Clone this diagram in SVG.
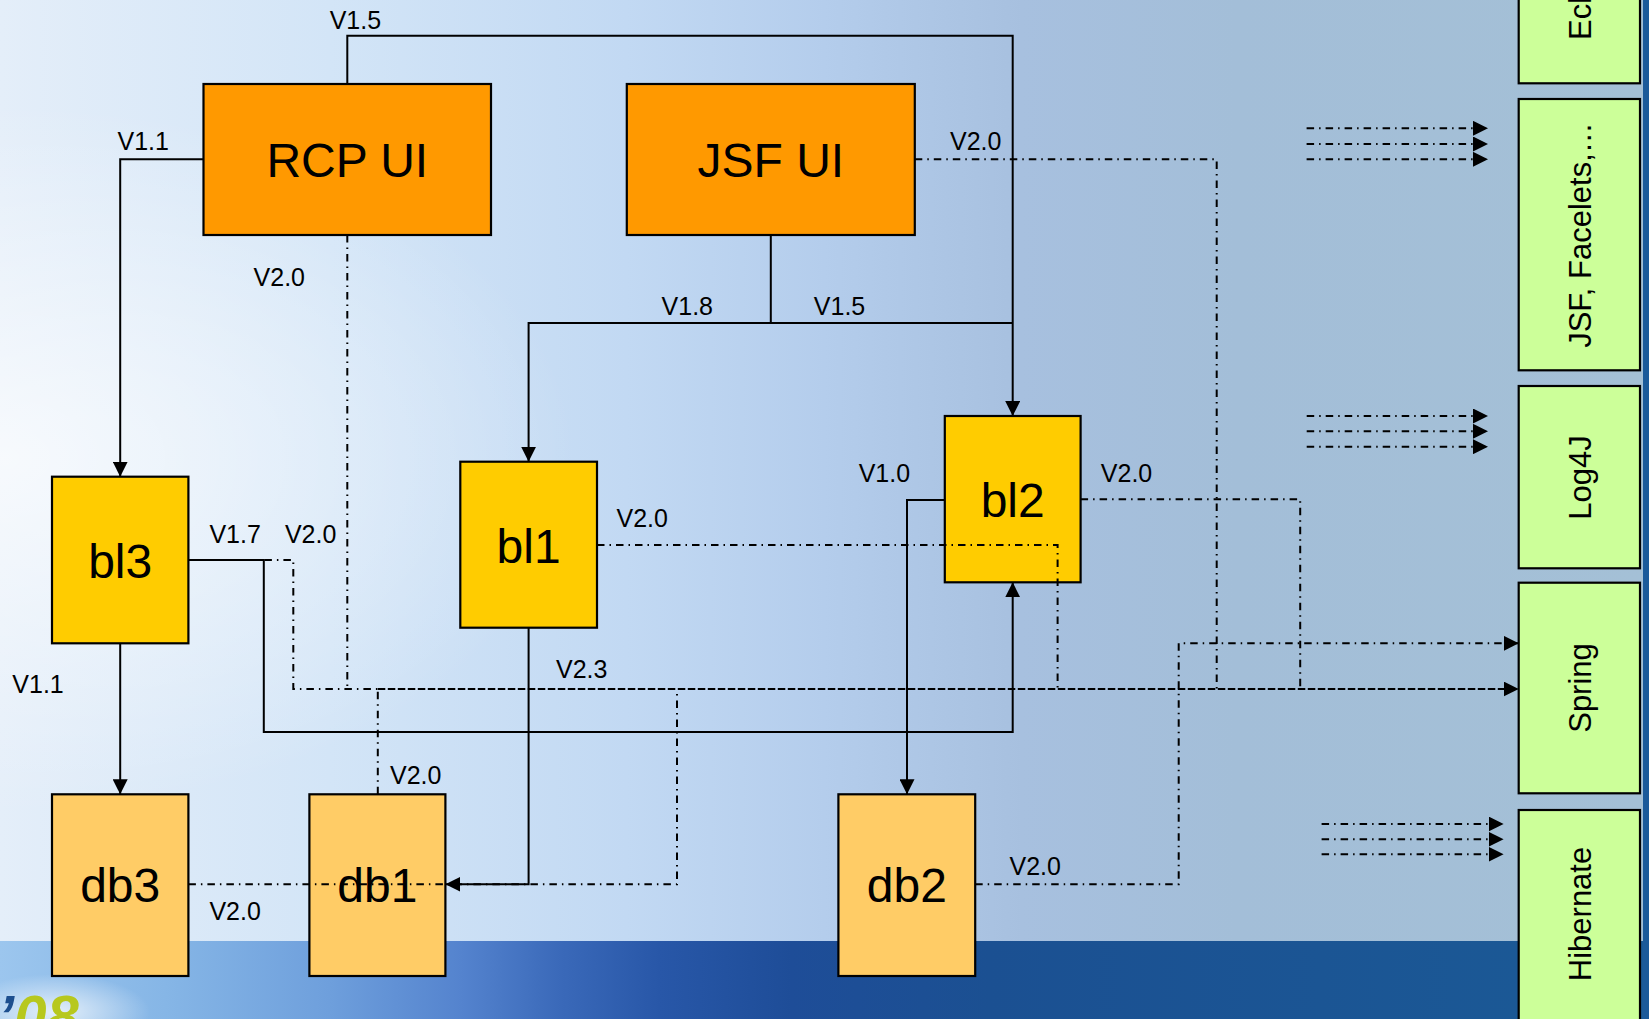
<svg xmlns="http://www.w3.org/2000/svg" width="1649" height="1019" viewBox="0 0 1649 1019">
<defs>
<linearGradient id="bg" x1="0" y1="0" x2="1" y2="0">
<stop offset="0" stop-color="#e4eef9"/>
<stop offset="0.2" stop-color="#d3e5f7"/>
<stop offset="0.38" stop-color="#c2d9f3"/>
<stop offset="0.5" stop-color="#b4cdec"/>
<stop offset="0.62" stop-color="#a7c0df"/>
<stop offset="0.75" stop-color="#a3bed8"/>
<stop offset="1" stop-color="#a4c0d6"/>
</linearGradient>
<radialGradient id="glow" cx="0" cy="0.45" r="0.35">
<stop offset="0" stop-color="#ffffff" stop-opacity="0.7"/>
<stop offset="1" stop-color="#ffffff" stop-opacity="0"/>
</radialGradient>
<linearGradient id="band" x1="0" y1="0" x2="1" y2="0">
<stop offset="0" stop-color="#9cc6ee"/>
<stop offset="0.1" stop-color="#86b6e6"/>
<stop offset="0.2" stop-color="#6e9fdc"/>
<stop offset="0.28" stop-color="#5483ce"/>
<stop offset="0.34" stop-color="#3a69b9"/>
<stop offset="0.4" stop-color="#2857a8"/>
<stop offset="0.48" stop-color="#1e4d98"/>
<stop offset="0.6" stop-color="#1b5092"/>
<stop offset="1" stop-color="#1b5a96"/>
</linearGradient>
<radialGradient id="logoglow" cx="0.5" cy="0.5" r="0.5">
<stop offset="0" stop-color="#ffffff" stop-opacity="0.75"/>
<stop offset="1" stop-color="#ffffff" stop-opacity="0"/>
</radialGradient>
<marker id="arr" viewBox="0 0 15 15" refX="15" refY="7.5" markerWidth="15" markerHeight="15" markerUnits="userSpaceOnUse" orient="auto">
<path d="M0,0 L15,7.5 L0,15 Z" fill="#000"/>
</marker>
</defs>
<style>
.box{stroke:#000;stroke-width:2.2}
.ui{fill:#ff9900}
.bl{fill:#ffcc00}
.db{fill:#ffcc66}
.lib{fill:#ccff99}
.nt{font-family:"Liberation Sans",Arial,sans-serif;font-size:48px;fill:#000;text-anchor:middle}
.lt{font-family:"Liberation Sans",Arial,sans-serif;font-size:31px;fill:#000;text-anchor:middle}
.lbl{font-family:"Liberation Sans",Arial,sans-serif;font-size:25px;fill:#000}
.solid{fill:none;stroke:#000;stroke-width:2}
.dd{fill:none;stroke:#000;stroke-width:2;stroke-dasharray:7.5 5 1.5 5}
.dash{fill:none;stroke:#000;stroke-width:2;stroke-dasharray:7.5 2.5}
</style>

<g id="background">
<rect x="0" y="0" width="1649" height="1019" fill="url(#bg)"/>
<rect x="0" y="0" width="1649" height="1019" fill="url(#glow)"/>
<rect x="0" y="941" width="1649" height="78" fill="url(#band)"/>
<rect x="1643" y="0" width="6" height="1019" fill="#1b5a9a"/>
<ellipse cx="55" cy="1012" rx="95" ry="38" fill="url(#logoglow)"/>
<text x="-2" y="1036" font-family="Liberation Sans, Arial, sans-serif" font-size="58" font-weight="bold" font-style="italic"><tspan fill="#1d4f8f">’</tspan><tspan fill="#b7c81e">08</tspan></text>
</g>

<g id="node-rcp-ui">
<rect class="box ui" x="203.5" y="84" width="287.5" height="151"/>
<text class="nt" x="347.3" y="176.7">RCP UI</text>
</g>
<g id="node-jsf-ui">
<rect class="box ui" x="626.8" y="84" width="288" height="151"/>
<text class="nt" x="770.8" y="176.7">JSF UI</text>
</g>
<g id="node-bl3">
<rect class="box bl" x="52" y="476.7" width="136.4" height="166.6"/>
<text class="nt" x="120.2" y="578">bl3</text>
</g>
<g id="node-bl1">
<rect class="box bl" x="460.3" y="461.7" width="136.7" height="166"/>
<text class="nt" x="528.6" y="562.7">bl1</text>
</g>
<g id="node-bl2">
<rect class="box bl" x="944.8" y="416" width="135.8" height="166.3"/>
<text class="nt" x="1012.7" y="516.7">bl2</text>
</g>
<g id="node-db3">
<rect class="box db" x="52" y="794.3" width="136.4" height="181.7"/>
<text class="nt" x="120.2" y="902.3">db3</text>
</g>
<g id="node-db1">
<rect class="box db" x="309.4" y="794.3" width="136" height="181.7"/>
<text class="nt" x="377.4" y="902.3">db1</text>
</g>
<g id="node-db2">
<rect class="box db" x="838.4" y="794.3" width="136.8" height="181.7"/>
<text class="nt" x="906.8" y="902.3">db2</text>
</g>

<g id="node-eclipse">
<rect class="box lib" x="1518.7" y="-5" width="121.3" height="88.3"/>
<text class="lt" style="text-anchor:start" transform="translate(1591,40) rotate(-90)">Ecl</text>
</g>
<g id="node-jsf-facelets">
<rect class="box lib" x="1518.7" y="99" width="121.3" height="271.3"/>
<text class="lt" transform="translate(1591,235) rotate(-90)">JSF, Facelets,…</text>
</g>
<g id="node-log4j">
<rect class="box lib" x="1518.7" y="386" width="121.3" height="182.3"/>
<text class="lt" transform="translate(1591,477.5) rotate(-90)">Log4J</text>
</g>
<g id="node-spring">
<rect class="box lib" x="1518.7" y="582.7" width="121.3" height="210.6"/>
<text class="lt" transform="translate(1591,688) rotate(-90)">Spring</text>
</g>
<g id="node-hibernate">
<rect class="box lib" x="1518.7" y="810" width="121.3" height="225"/>
<text class="lt" transform="translate(1591,914) rotate(-90)">Hibernate</text>
</g>

<g id="connectors">
<path class="solid" d="M347.3,84 V35.7 H1012.7 V416" marker-end="url(#arr)"/>
<path class="solid" d="M770.8,323 H1012.7"/>
<path class="solid" d="M203.5,159.3 H120.2 V476.7" marker-end="url(#arr)"/>
<path class="solid" d="M770.8,235 V323 H528.6 V461.7" marker-end="url(#arr)"/>
<path class="solid" d="M120.2,643.3 V794.3" marker-end="url(#arr)"/>
<path class="solid" d="M188.4,560 H263.8 V732 H1012.7 V582.3" marker-end="url(#arr)"/>
<path class="solid" d="M528.6,627.7 V884.3 H445.4" marker-end="url(#arr)"/>
<path class="solid" d="M944.8,500 H907 V794.3" marker-end="url(#arr)"/>
<path class="dd" d="M347.3,235 V689"/>
<path class="dd" d="M188.4,560 H293.3 V689 H377.8"/>
<path class="dd" d="M914.8,159.3 H1216.7 V689"/>
<path class="dd" d="M597,545 H1057.6 V689"/>
<path class="dd" d="M1080.6,499.3 H1300.2 V689"/>
<path class="dd" d="M377.8,794.3 V689"/>
<path class="dd" d="M188.4,884.3 H677 V689"/>
<path class="dd" d="M975.2,884.3 H1178.7 V643.3 H1518.7" marker-end="url(#arr)"/>
<path class="dash" d="M377.8,689 H1518.7" marker-end="url(#arr)"/>
<path class="dd" d="M1306.6,128.3 H1488" marker-end="url(#arr)"/>
<path class="dd" d="M1306.6,144 H1488" marker-end="url(#arr)"/>
<path class="dd" d="M1306.6,159.3 H1488" marker-end="url(#arr)"/>
<path class="dd" d="M1306.7,416 H1488" marker-end="url(#arr)"/>
<path class="dd" d="M1306.7,431.3 H1488" marker-end="url(#arr)"/>
<path class="dd" d="M1306.7,446.7 H1488" marker-end="url(#arr)"/>
<path class="dd" d="M1321.6,824 H1503.6" marker-end="url(#arr)"/>
<path class="dd" d="M1321.6,839.3 H1503.6" marker-end="url(#arr)"/>
<path class="dd" d="M1321.6,854.3 H1503.6" marker-end="url(#arr)"/>
</g>

<g id="labels">
<text class="lbl" x="329.7" y="29">V1.5</text>
<text class="lbl" x="117.5" y="150">V1.1</text>
<text class="lbl" x="253.6" y="286">V2.0</text>
<text class="lbl" x="950" y="150">V2.0</text>
<text class="lbl" x="661.6" y="315">V1.8</text>
<text class="lbl" x="813.8" y="315">V1.5</text>
<text class="lbl" x="209.4" y="542.7">V1.7</text>
<text class="lbl" x="284.9" y="542.7">V2.0</text>
<text class="lbl" x="12.3" y="693.3">V1.1</text>
<text class="lbl" x="616.5" y="527">V2.0</text>
<text class="lbl" x="858.7" y="481.7">V1.0</text>
<text class="lbl" x="556" y="678">V2.3</text>
<text class="lbl" x="1100.8" y="481.7">V2.0</text>
<text class="lbl" x="390" y="784.3">V2.0</text>
<text class="lbl" x="209.4" y="920">V2.0</text>
<text class="lbl" x="1009.5" y="875">V2.0</text>
</g>
</svg>
